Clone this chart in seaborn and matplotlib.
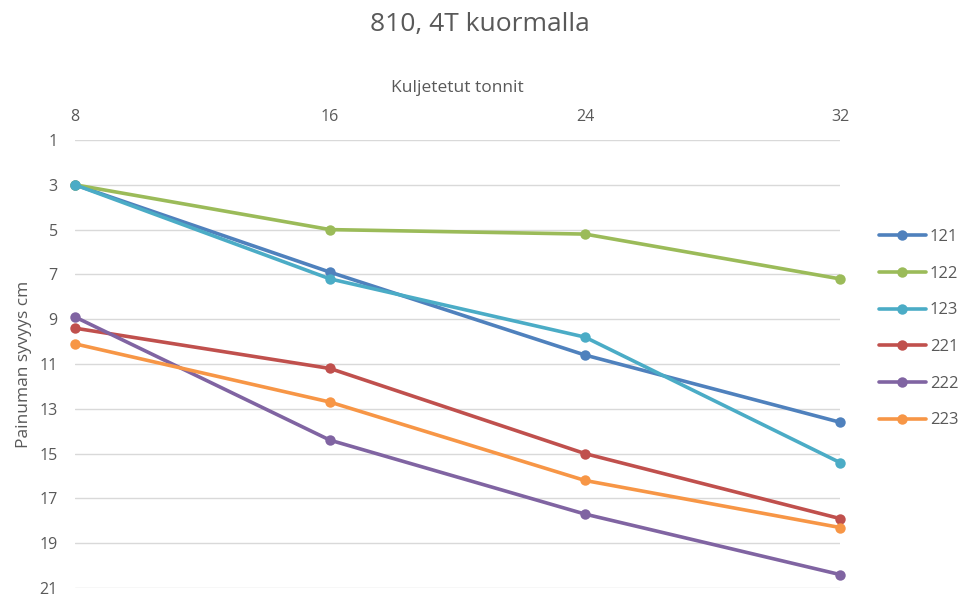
import matplotlib
matplotlib.use("Agg")
import matplotlib.pyplot as plt
import seaborn as sns
import pandas as pd

# Carried tonnes (x axis, shown along the top)
tonnes = [8, 16, 24, 32]

# Rut depth in cm for each measurement point
s121 = [3.0, 6.9, 10.6, 13.6]
s122 = [3.0, 5.0, 5.2, 7.2]
s123 = [3.0, 7.2, 9.8, 15.4]
s221 = [9.4, 11.2, 15.0, 17.9]
s222 = [8.9, 14.4, 17.7, 20.4]
s223 = [10.1, 12.7, 16.2, 18.3]

series_names = ["121", "122", "123", "221", "222", "223"]
series_values = [s121, s122, s123, s221, s222, s223]
colors = ["#4F81BD", "#9BBB59", "#4BACC6", "#C0504D", "#8064A2", "#F79646"]

y_ticks = [1, 3, 5, 7, 9, 11, 13, 15, 17, 19, 21]

rows = []
for name, vals in zip(series_names, series_values):
    for t, v in zip(tonnes, vals):
        rows.append({"Sarja": name, "Tonnit": t, "Syvyys": v})
df = pd.DataFrame(rows)

sns.set_theme(style="white")
plt.rcParams["font.family"] = ["Open Sans", "DejaVu Sans"]

text_grey = "#595959"

fig = plt.figure(figsize=(9.6, 5.96), dpi=100)
ax = fig.add_axes([75 / 960, 1 - 588 / 596, (840 - 75) / 960, (588 - 140) / 596])

sns.lineplot(
    data=df, x="Tonnit", y="Syvyys", hue="Sarja",
    palette=dict(zip(series_names, colors)), hue_order=series_names,
    marker="o", markersize=7.5, markeredgewidth=0, linewidth=2.6,
    ax=ax, legend=False, clip_on=False, zorder=3,
)

ax.set_xlim(8, 32)
ax.set_ylim(21, 1)
ax.set_xticks(tonnes)
ax.set_yticks(y_ticks)
ax.xaxis.tick_top()
ax.xaxis.set_label_position("top")
ax.tick_params(axis="both", length=0, labelsize=11.5, colors=text_grey)
ax.tick_params(axis="x", pad=11)
ax.tick_params(axis="y", pad=12.5)
for y in y_ticks:
    ax.axhline(y, color="#D9D9D9", linewidth=1, zorder=1)
for sp in ax.spines.values():
    sp.set_visible(False)

ax.set_xlabel("Kuljetetut tonnit", fontsize=12.5, color=text_grey, labelpad=12)
ax.set_ylabel("Painuman syvyys cm", fontsize=12.5, color=text_grey, labelpad=5)

fig.suptitle("810, 4T kuormalla", x=0.5, y=0.98, fontsize=19, color=text_grey)

handles = [
    plt.Line2D([0], [0], color=c, linewidth=2.6, marker="o", markersize=7.5, markeredgewidth=0)
    for c in colors
]
leg = fig.legend(
    handles, series_names, loc="upper left", bbox_to_anchor=(879 / 960, 1 - 229 / 596),
    frameon=False, fontsize=12, handlelength=2.8, labelspacing=1.24, handletextpad=0.25,
    borderaxespad=0, borderpad=0,
)
for t in leg.get_texts():
    t.set_color(text_grey)

fig.savefig("out.png", dpi=100)
